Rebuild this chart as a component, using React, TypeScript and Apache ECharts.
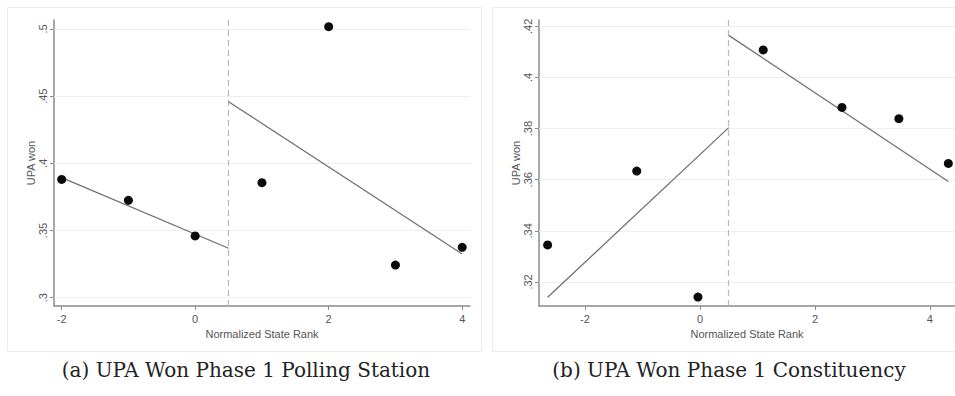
import React, { useEffect, useRef } from "react";
import * as echarts from "echarts";

// Panel (a): UPA Won Phase 1 Polling Station
const rankA = [-2, -1, 0, 1, 2, 3, 4];
const wonA = [0.388, 0.3725, 0.346, 0.3856, 0.5017, 0.3243, 0.3375];
const fitLeftA: [number, number][] = [[-2, 0.3893], [0.5, 0.3368]];
const fitRightA: [number, number][] = [[0.5, 0.4459], [4, 0.3325]];
const yTicksA = [0.3, 0.35, 0.4, 0.45, 0.5];
const xTicks = [-2, 0, 2, 4];

// Panel (b): UPA Won Phase 1 Constituency
const rankB = [-2.65, -1.1, -0.035, 1.1, 2.47, 3.46, 4.32];
const wonB = [0.3345, 0.3634, 0.3141, 0.4108, 0.3883, 0.3839, 0.3664];
const fitLeftB: [number, number][] = [[-2.65, 0.314], [0.5, 0.3804]];
const fitRightB: [number, number][] = [[0.5, 0.4165], [4.32, 0.3593]];
const yTicksB = [0.32, 0.34, 0.36, 0.38, 0.4, 0.42];

const cutoff = 0.5;
const captions = ["(a) UPA Won Phase 1 Polling Station", "(b) UPA Won Phase 1 Constituency"];

const AXIS_COLOR = "#8a8a8a";
const TEXT_COLOR = "#555";
const FONT = "Liberation Sans";

function fmt(v: number) {
  return String(v).replace(/^0\./, ".").replace(/^-0\./, "-.");
}

export default function App() {
  const ref = useRef<HTMLDivElement>(null);
  useEffect(() => {
    if (!ref.current) return;
    const chart = echarts.init(ref.current, null, { renderer: "svg" });

    const xAxisBase = (min: number, max: number, idx: number) => ({
      type: "value",
      gridIndex: idx,
      min,
      max,
      name: "Normalized State Rank",
      nameLocation: "middle",
      nameGap: 20,
      nameTextStyle: { color: TEXT_COLOR, fontFamily: FONT, fontSize: 11 },
      axisLine: { show: true, onZero: false, lineStyle: { color: AXIS_COLOR, width: 1.5 } },
      axisTick: { show: true, length: 4, customValues: xTicks, lineStyle: { color: AXIS_COLOR } },
      axisLabel: {
        customValues: xTicks,
        color: TEXT_COLOR,
        fontFamily: FONT,
        fontSize: 11,
        margin: 7,
        formatter: (v: number) => fmt(v),
        showMinLabel: true,
        showMaxLabel: true,
      },
      splitLine: { show: false },
    });

    const yAxisBase = (min: number, max: number, idx: number, ticks: number[]) => ({
      type: "value",
      gridIndex: idx,
      min,
      max,
      name: "UPA won",
      nameLocation: "middle",
      nameGap: 14,
      nameTextStyle: { color: TEXT_COLOR, fontFamily: FONT, fontSize: 11 },
      axisLine: { show: true, onZero: false, lineStyle: { color: AXIS_COLOR, width: 1.5 } },
      axisTick: { show: true, length: 4, customValues: ticks, lineStyle: { color: AXIS_COLOR } },
      axisLabel: {
        customValues: ticks,
        rotate: 90,
        color: TEXT_COLOR,
        fontFamily: FONT,
        fontSize: 11,
        margin: 6,
        formatter: (v: number) => fmt(v),
      },
      splitLine: { show: false },
    });

    const gridLines = (ticks: number[]) => ({
      silent: true,
      symbol: "none",
      label: { show: false },
      emphasis: { disabled: true },
      lineStyle: { color: "#efefef", type: "solid", width: 1 },
      data: ticks.map((t) => ({ yAxis: t })),
    });

    const cutLine = {
      silent: true,
      symbol: "none",
      label: { show: false },
      emphasis: { disabled: true },
      lineStyle: { color: "#b8b8b8", type: [6, 4], width: 1.2 },
      data: [{ xAxis: cutoff }],
    };

    const panels = [
      { rank: rankA, won: wonA, fl: fitLeftA, fr: fitRightA, ticks: yTicksA },
      { rank: rankB, won: wonB, fl: fitLeftB, fr: fitRightB, ticks: yTicksB },
    ];

    const series: any[] = [];
    panels.forEach((p, i) => {
      series.push({
        type: "line",
        xAxisIndex: i,
        yAxisIndex: i,
        data: [],
        markLine: gridLines(p.ticks),
        silent: true,
        z: 0,
      });
      series.push({
        type: "line",
        xAxisIndex: i,
        yAxisIndex: i,
        data: [],
        markLine: cutLine,
        silent: true,
        z: 1,
      });
      series.push({
        type: "line",
        xAxisIndex: i,
        yAxisIndex: i,
        data: p.fl,
        showSymbol: false,
        lineStyle: { color: "#707070", width: 1.3 },
        z: 5,
      });
      series.push({
        type: "line",
        xAxisIndex: i,
        yAxisIndex: i,
        data: p.fr,
        showSymbol: false,
        lineStyle: { color: "#707070", width: 1.3 },
        z: 5,
      });
      series.push({
        type: "scatter",
        xAxisIndex: i,
        yAxisIndex: i,
        data: p.rank.map((r, k) => [r, p.won[k]]),
        symbolSize: 9,
        itemStyle: { color: "#0a0a0a", opacity: 1 },
        z: 6,
      });
    });

    chart.setOption({
      animation: false,
      backgroundColor: "#fff",
      grid: [
        { left: 54, top: 20, width: 416, height: 286 },
        { left: 539, top: 20, width: 416, height: 286 },
      ],
      xAxis: [xAxisBase(-2.115, 4.117, 0), xAxisBase(-2.8, 4.436, 1)],
      yAxis: [yAxisBase(0.2938, 0.5067, 0, yTicksA), yAxisBase(0.3106, 0.4225, 1, yTicksB)],
      series,
      graphic: [
        {
          type: "rect",
          shape: { x: 7.5, y: 7.5, width: 474, height: 344 },
          style: { fill: "none", stroke: "#ececec", lineWidth: 1 },
          silent: true,
          z: -1,
        },
        {
          type: "rect",
          shape: { x: 492.5, y: 7.5, width: 480, height: 344 },
          style: { fill: "none", stroke: "#ececec", lineWidth: 1 },
          silent: true,
          z: -1,
        },
        {
          type: "text",
          x: 246,
          y: 370,
          style: {
            text: captions[0],
            fill: "#222",
            font: '20px "DejaVu Serif"',
            align: "center",
            verticalAlign: "middle",
          },
        },
        {
          type: "text",
          x: 729,
          y: 370,
          style: {
            text: captions[1],
            fill: "#222",
            font: '20px "DejaVu Serif"',
            align: "center",
            verticalAlign: "middle",
          },
        },
      ],
    });
    return () => chart.dispose();
  }, []);
  return (
    <div
      ref={ref}
      style={{ position: "fixed", left: 0, top: 0, width: 955, height: 396 }}
    />
  );
}
